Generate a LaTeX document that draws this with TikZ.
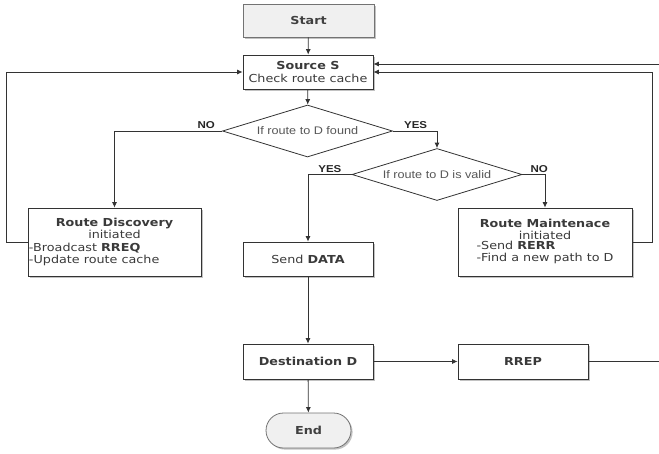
\documentclass[tikz,border=0pt]{standalone}
\usepackage{fontspec}
\setmainfont{DejaVu Sans}[FakeStretch=1.16]
\newfontfamily\arialf{Liberation Sans}[FakeStretch=1.15]
\usetikzlibrary{shapes.geometric,shapes.misc,shadows,arrows.meta}
\definecolor{lnc}{HTML}{333333}
\definecolor{txc}{HTML}{3A3A3A}
\begin{document}
\begin{tikzpicture}[x=1pt,y=-1pt,
  shad/.style={drop shadow={shadow xshift=1.6pt,shadow yshift=-1.6pt,fill=black!40,opacity=0.6}},
  box/.style={draw=lnc, line width=0.8pt, fill=white, shad, inner sep=1pt,
    text=txc, font=\fontsize{11}{12.4}\selectfont, align=center},
  term/.style={box, draw=black!55, fill=black!6, text=black!75},
  dia/.style={diamond, draw=lnc, line width=0.8pt, fill=white, inner sep=0pt,
    minimum width=170pt, minimum height=52pt, aspect=3.27,
    text=txc!85, font=\arialf\fontsize{11}{13}\selectfont},
  lab/.style={font=\arialf\bfseries\fontsize{10}{12}\selectfont, text=black!85, inner sep=1pt},
  arr/.style={draw=lnc, line width=0.8pt, -{Latex[length=5.5pt,width=5pt]}}
]
\useasboundingbox (0,0) rectangle (659,453);

\node[term, minimum width=131pt, minimum height=33pt] (start) at (308.5,20.5) {\textbf{Start}};
\node[box, minimum width=130pt, minimum height=34pt] (src) at (308,72) {\textbf{Source S}\\Check route cache};
\node[dia] (d1) at (307.5,131) {If route to D found};
\node[dia] (d2) at (437,174.5) {If route to D is valid};
\node[box, minimum width=173pt, minimum height=68pt] (rd) at (114.5,242)
  {\textbf{Route Discovery}\\initiated\\\makebox[171pt][l]{-Broadcast \textbf{RREQ}}\\\makebox[171pt][l]{-Update route cache}};
\node[box, minimum width=174pt, minimum height=68pt] (rm) at (545,242)
  {\textbf{Route Maintenace}\\initiated\\\begin{tabular}{@{}l@{}}-Send \textbf{RERR}\\-Find a new path to D\end{tabular}};
\node[box, minimum width=130pt, minimum height=34pt] (send) at (308,259) {Send \textbf{DATA}};
\node[box, minimum width=130pt, minimum height=35pt] (dest) at (308,361.5) {\textbf{Destination D}};
\node[box, minimum width=130pt, minimum height=35pt] (rrep) at (523,361.5) {\textbf{RREP}};
\node[term, rounded rectangle, minimum width=87pt, minimum height=35pt] (end) at (308.5,430.5) {\textbf{End}};

\coordinate (offR) at (680,361.5);

\draw[arr] (start) -- (src);
\draw[arr] (src) -- (d1);
\draw[arr] (d1.west) -| (rd.north);
\draw[arr] (d1.east) -| (d2.north);
\draw[arr] (d2.west) -| (send.north);
\draw[arr] (d2.east) -| (rm.north);
\draw[arr] (rd.west) -- ++(-21,0) |- (src.west);
\draw[arr] (rm.east) -- ++(19.5,0) |- (src.east);
\draw[arr] (rrep.east) -- (offR) |- ([yshift=8pt]src.east);
\draw[arr] (send) -- (dest);
\draw[arr] (dest) -- (rrep);
\draw[arr] (dest) -- (end);

\node[lab, anchor=south east] (lno1) at ([xshift=-6pt,yshift=1pt]d1.west) {NO};
\node[lab, anchor=south west] (lyes1) at ([xshift=10pt,yshift=1pt]d1.east) {YES};
\node[lab, anchor=south east] (lyes2) at ([xshift=-9pt,yshift=1pt]d2.west) {YES};
\node[lab, anchor=south west] (lno2) at ([xshift=7pt,yshift=1pt]d2.east) {NO};
\end{tikzpicture}
\end{document}
